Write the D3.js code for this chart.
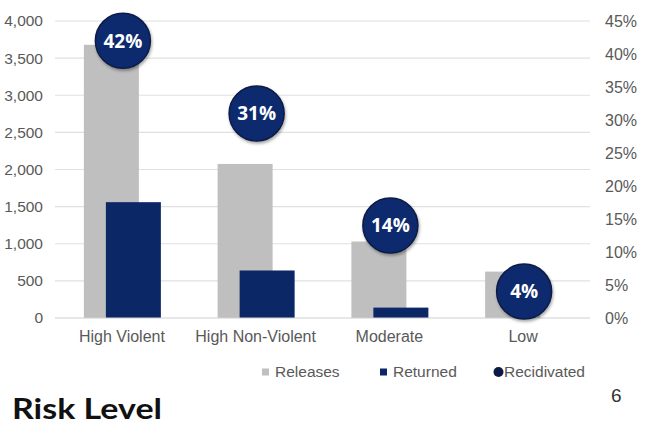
<!DOCTYPE html>
<html>
<head>
<meta charset="utf-8">
<script src="https://cdn.jsdelivr.net/npm/d3@7"></script>
<style>
  html, body { margin: 0; padding: 0; background: #ffffff; }
  svg { display: block; }
</style>
</head>
<body>
<svg id="chart" width="645" height="433"></svg>
<script>
const categories = ["High Violent", "High Non-Violent", "Moderate", "Low"];
const releases = [3680, 2075, 1030, 625];
const returned = [1560, 640, 140, 0];
const recidivated = [42, 31, 14, 4];
const leftTicks = [0, 500, 1000, 1500, 2000, 2500, 3000, 3500, 4000];
const rightTicks = [0, 5, 10, 15, 20, 25, 30, 35, 40, 45];
const legendItems = ["Releases", "Returned", "Recidivated"];

const svg = d3.select("#chart");
const plot = { left: 55, right: 590, top: 21, bottom: 318 };

const x = d3.scaleBand().domain(categories).range([plot.left, plot.right]).padding(0);
const yL = d3.scaleLinear().domain([0, 4000]).range([plot.bottom, plot.top]);
const yR = d3.scaleLinear().domain([0, 45]).range([plot.bottom, plot.top]);

const navy = "#0c2766";
const grey = "#bfbfbf";
const textCol = "#595959";
const font = "'Liberation Sans', Arial, sans-serif";

// gridlines
svg.append("g").selectAll("line").data(leftTicks.filter(d => d > 0)).join("line")
  .attr("x1", plot.left).attr("x2", plot.right)
  .attr("y1", d => yL(d)).attr("y2", d => yL(d))
  .attr("stroke", "#e0e0e0").attr("stroke-width", 1.2);

// left axis
const axL = svg.append("g").attr("transform", `translate(${plot.left},0)`)
  .call(d3.axisLeft(yL).tickValues(leftTicks).tickFormat(d3.format(",")).tickSize(0).tickPadding(12));
axL.select(".domain").remove();
axL.selectAll("text").attr("font-family", font).attr("font-size", 15.5).attr("fill", textCol);

// right axis
const axR = svg.append("g").attr("transform", `translate(${plot.right},0)`)
  .call(d3.axisRight(yR).tickValues(rightTicks).tickFormat(d => d + "%").tickSize(0).tickPadding(15));
axR.select(".domain").remove();
axR.selectAll("text").attr("font-family", font).attr("font-size", 16).attr("fill", textCol);

// bars
const bw = 55;
const center = c => x(c) + x.bandwidth() / 2;
svg.append("g").selectAll("rect").data(categories).join("rect")
  .attr("x", c => center(c) - 38).attr("width", bw)
  .attr("y", (c, i) => yL(releases[i])).attr("height", (c, i) => yL(0) - yL(releases[i]))
  .attr("fill", grey);
svg.append("g").selectAll("rect").data(categories).join("rect")
  .attr("x", c => center(c) - 16).attr("width", bw)
  .attr("y", (c, i) => yL(returned[i])).attr("height", (c, i) => yL(0) - yL(returned[i]))
  .attr("fill", navy);

// baseline
svg.append("line").attr("x1", plot.left).attr("x2", plot.right)
  .attr("y1", yL(0)).attr("y2", yL(0)).attr("stroke", "#d0d0d0").attr("stroke-width", 1.2);

// category axis
const axB = svg.append("g").attr("transform", `translate(0,${plot.bottom})`)
  .call(d3.axisBottom(x).tickSize(0).tickPadding(13));
axB.select(".domain").remove();
axB.selectAll("text").attr("font-family", font).attr("font-size", 16).attr("fill", textCol);

// recidivated circles
const defs = svg.append("defs");
const f = defs.append("filter").attr("id", "sh").attr("x", "-30%").attr("y", "-30%").attr("width", "160%").attr("height", "160%");
f.append("feDropShadow").attr("dx", 1).attr("dy", 2).attr("stdDeviation", 1.5).attr("flood-color", "#000").attr("flood-opacity", 0.35);

const cg = svg.append("g").selectAll("g").data(categories).join("g")
  .attr("transform", (c, i) => `translate(${center(c) + 1},${yR(recidivated[i])})`);
cg.append("circle").attr("r", 27.5).attr("fill", "#0e2a6e").attr("stroke", "#0a1a45").attr("stroke-width", 1.5)
  .attr("filter", "url(#sh)");
cg.append("text").text((c, i) => recidivated[i] + "%")
  .attr("text-anchor", "middle").attr("dy", "0.36em")
  .attr("font-family", "'Open Sans', 'DejaVu Sans', sans-serif").attr("font-weight", "bold")
  .attr("font-size", 19).attr("fill", "#ffffff");

// legend
const legX = [262, 380, 494];
const lg = svg.append("g").selectAll("g").data(legendItems).join("g")
  .attr("transform", (d, i) => `translate(${legX[i]},372)`);
lg.each(function(d, i) {
  const g = d3.select(this);
  if (i === 0) g.append("rect").attr("x", 0).attr("y", -3.5).attr("width", 7).attr("height", 7).attr("fill", grey);
  else if (i === 1) g.append("rect").attr("x", 0).attr("y", -3.5).attr("width", 7).attr("height", 7).attr("fill", navy);
  else g.append("circle").attr("cx", 4.5).attr("cy", 0).attr("r", 5).attr("fill", "#0a1a45");
  g.append("text").attr("x", i === 2 ? 10 : 13).attr("dy", "0.35em").text(d)
    .attr("font-family", font).attr("font-size", 15.5).attr("fill", textCol);
});

// title and page number
svg.append("text").attr("x", 12).attr("y", 419).text("Risk Level")
  .attr("font-family", "Lato, 'Open Sans', sans-serif").attr("font-weight", "bold")
  .attr("font-size", 29).attr("fill", "#111111")
  .attr("textLength", 150).attr("lengthAdjust", "spacingAndGlyphs");
svg.append("text").attr("x", 611).attr("y", 402).text("6")
  .attr("font-family", font).attr("font-size", 19).attr("fill", "#333333");
</script>
</body>
</html>
